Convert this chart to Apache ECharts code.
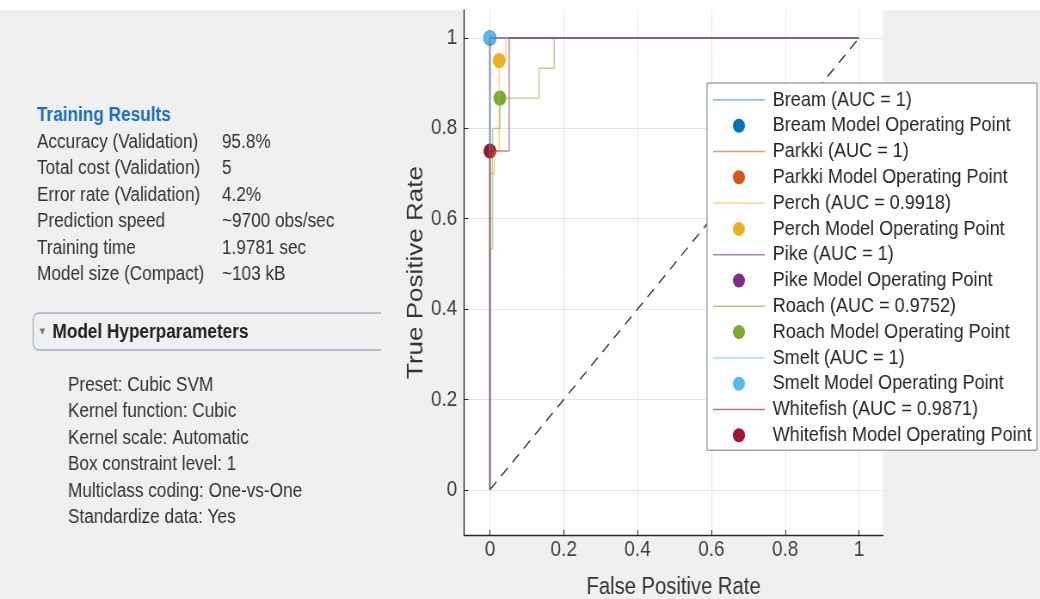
<!DOCTYPE html>
<html>
<head>
<meta charset="utf-8">
<script src="https://cdn.jsdelivr.net/npm/echarts@6/dist/echarts.min.js"></script>
<style>
  html, body { margin: 0; padding: 0; background: #fff; width: 1040px; height: 599px; overflow: hidden; }
  /* the reference screenshot is squeezed horizontally, so the chart is drawn wider and scaled down */
  #chart { width: 1209px; height: 599px; transform: scaleX(0.8602); transform-origin: 0 0; }
</style>
</head>
<body>
<div id="chart"></div>
<script>
// classes and their AUC as shown in the legend
const classNames = ['Bream', 'Parkki', 'Perch', 'Pike', 'Roach', 'Smelt', 'Whitefish'];
const aucValues = ['1', '1', '0.9918', '1', '0.9752', '1', '0.9871'];

// ROC curves, [false positive rate, true positive rate]
const breamRoc = [[0, 0], [0, 1], [1, 1]];
const parkkiRoc = [[0, 0], [0, 1], [1, 1]];
const perchRoc = [[0, 0], [0, 0.7], [0.012, 0.7], [0.012, 0.75], [0.025, 0.75], [0.025, 0.95], [0.043, 0.95], [0.043, 1], [1, 1]];
const pikeRoc = [[0, 0], [0, 1], [1, 1]];
const roachRoc = [[0, 0], [0, 0.533], [0.007, 0.533], [0.007, 0.8], [0.027, 0.8], [0.027, 0.867], [0.133, 0.867], [0.133, 0.933], [0.174, 0.933], [0.174, 1], [1, 1]];
const smeltRoc = [[0, 0], [0, 1], [1, 1]];
const whitefishRoc = [[0, 0], [0, 0.75], [0.052, 0.75], [0.052, 1], [1, 1]];
const rocCurves = [breamRoc, parkkiRoc, perchRoc, pikeRoc, roachRoc, smeltRoc, whitefishRoc];

// model operating points
const operatingPoints = [[0, 1], [0, 1], [0.025, 0.95], [0, 1], [0.027, 0.867], [0, 1], [0, 0.75]];

// chance diagonal
const diagonal = [[0, 0], [1, 1]];

const xTicks = [0, 0.2, 0.4, 0.6, 0.8, 1];
const yTicks = [0, 0.2, 0.4, 0.6, 0.8, 1];

const trainingLabels = ['Accuracy (Validation)', 'Total cost (Validation)', 'Error rate (Validation)', 'Prediction speed', 'Training time', 'Model size (Compact)'];
const trainingValues = ['95.8%', '5', '4.2%', '~9700 obs/sec', '1.9781 sec', '~103 kB'];
const hyperparameters = ['Preset: Cubic SVM', 'Kernel function: Cubic', 'Kernel scale: Automatic', 'Box constraint level: 1', 'Multiclass coding: One-vs-One', 'Standardize data: Yes'];

const colors = ['#0072BD', '#D95319', '#EDB120', '#7E2F8E', '#77AC30', '#4DBEEE', '#A2142F'];
const FONT = '"Liberation Sans", Arial, sans-serif';
// thin horizontal bar for the curve entries of the legend (tiny corner specks keep the box height)
const LINE_ICON = 'path://M0,0L0.01,0L0,0.01Z M0,6.3L60,6.3L60,7.7L0,7.7Z M60,14L59.99,14L60,13.99Z';

const chart = echarts.init(document.getElementById('chart'));

const series = [{
  type: 'line',
  data: diagonal,
  symbol: 'none',
  silent: true,
  lineStyle: { color: '#333', width: 1.4, type: [11, 8] },
  z: 1
}];
const legendData = [];
classNames.forEach((name, i) => {
  const curveName = name + ' (AUC = ' + aucValues[i] + ')';
  const pointName = name + ' Model Operating Point';
  series.push({
    name: curveName,
    type: 'line',
    data: rocCurves[i],
    symbol: 'none',
    color: colors[i],
    itemStyle: { color: colors[i] },
    lineStyle: { color: colors[i], width: 1.4, opacity: 0.55 }
  });
  series.push({
    name: pointName,
    type: 'scatter',
    data: [operatingPoints[i]],
    symbol: 'circle',
    symbolSize: 15,
    color: colors[i],
    itemStyle: { color: colors[i], opacity: 1 }
  });
  legendData.push({ name: curveName, icon: LINE_ICON, itemStyle: { opacity: 0.6 } });
  legendData.push({ name: pointName, icon: 'circle', itemStyle: { opacity: 1 } });
});

const graphics = [
  { type: 'rect', shape: { x: 0, y: 0, width: 1210, height: 10 }, style: { fill: '#fff' }, silent: true },
  { type: 'text', x: 43, y: 115, style: { text: 'Training Results', font: 'bold 20px ' + FONT, fill: '#1a6fc4', verticalAlign: 'middle' } },
  { type: 'rect', shape: { x: 38.5, y: 313, width: 440, height: 37, r: 7 }, style: { fill: 'none', stroke: '#9fb0c2', lineWidth: 1.3 } },
  { type: 'rect', shape: { x: 443, y: 305, width: 50, height: 55 }, style: { fill: '#f0f0f0' } },
  { type: 'text', x: 46, y: 331, style: { text: '\u25BE', font: '13px ' + FONT, fill: '#777', verticalAlign: 'middle' } },
  { type: 'text', x: 61, y: 332, style: { text: 'Model Hyperparameters', font: 'bold 20px ' + FONT, fill: '#222', verticalAlign: 'middle' } }
];
trainingLabels.forEach((t, i) => {
  const y = 142 + i * 26.5;
  graphics.push({ type: 'text', x: 43, y: y, style: { text: t, font: '20px ' + FONT, fill: '#333', verticalAlign: 'middle' } });
  graphics.push({ type: 'text', x: 258, y: y, style: { text: trainingValues[i], font: '20px ' + FONT, fill: '#333', verticalAlign: 'middle' } });
});
hyperparameters.forEach((t, i) => {
  graphics.push({ type: 'text', x: 79, y: 385 + i * 26.5, style: { text: t, font: '20px ' + FONT, fill: '#333', verticalAlign: 'middle' } });
});

const option = {
  animation: false,
  backgroundColor: '#f0f0f0',
  graphic: graphics,
  grid: {
    left: 539.5, right: 182.5, top: 10, bottom: 64,
    outerBoundsMode: 'none',
    show: true, backgroundColor: '#fff', borderWidth: 0
  },
  xAxis: {
    type: 'value',
    min: -0.07,
    max: 1.065,
    name: 'False Positive Rate',
    nameLocation: 'middle',
    nameGap: 41,
    nameTextStyle: { fontSize: 23.5, fontFamily: FONT, color: '#333' },
    axisLine: { show: true, onZero: false, lineStyle: { color: '#262626', width: 1.3 } },
    axisTick: { show: true, inside: true, length: 5, customValues: xTicks, lineStyle: { color: '#262626' } },
    axisLabel: { customValues: xTicks, fontSize: 22, fontFamily: FONT, color: '#404040', margin: 4 },
    splitLine: { show: true, lineStyle: { color: '#e6e6e6', width: 1 } }
  },
  yAxis: {
    type: 'value',
    min: -0.1,
    max: 1.062,
    name: 'True Positive Rate',
    nameLocation: 'middle',
    nameGap: 38,
    nameTextStyle: { fontSize: 26, fontFamily: FONT, color: '#333' },
    axisLine: { show: true, onZero: false, lineStyle: { color: '#262626', width: 1.3 } },
    axisTick: { show: true, inside: true, length: 5, customValues: yTicks, lineStyle: { color: '#262626' } },
    axisLabel: { customValues: yTicks, fontSize: 22, fontFamily: FONT, color: '#404040', margin: 8 },
    splitLine: { show: true, lineStyle: { color: '#e6e6e6', width: 1 } }
  },
  legend: {
    orient: 'vertical',
    left: 822,
    top: 83,
    itemWidth: 68.6,
    itemHeight: 14,
    itemGap: 0,
    padding: [4, 6, 2, 7],
    backgroundColor: '#fff',
    borderColor: '#7a7a7a',
    borderWidth: 1,
    selectedMode: false,
    textStyle: { fontSize: 21, fontFamily: FONT, color: '#262626', lineHeight: 25.8 },
    data: legendData
  },
  series: series
};
chart.setOption(option);
window.onresize = function () {
  chart.resize();
};
</script>
</body>
</html>
